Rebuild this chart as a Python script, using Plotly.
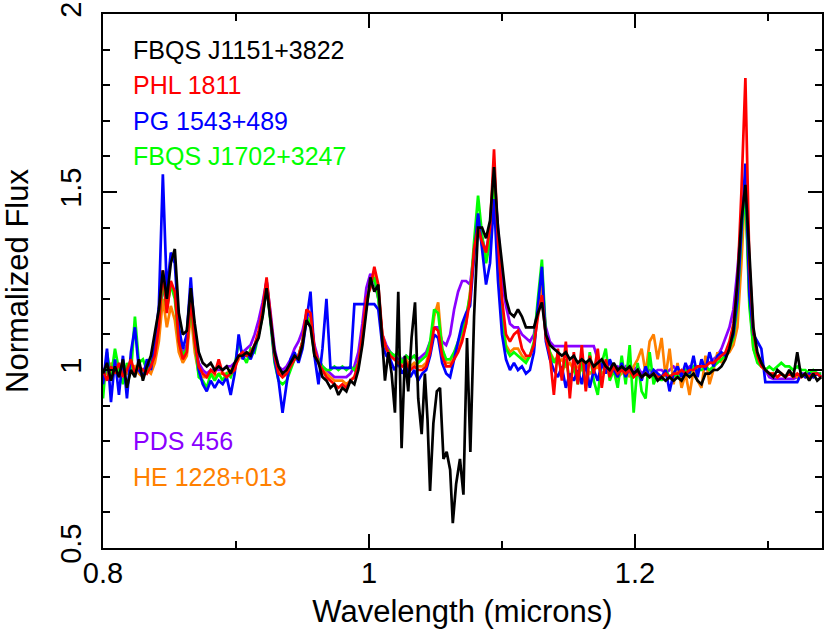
import plotly.graph_objects as go

# Comprimento de onda (microns), grade comum a todos os espectros
wave = [
    0.800, 0.803, 0.806, 0.809, 0.812, 0.815, 0.818, 0.821, 0.824, 0.827,
    0.830, 0.833, 0.836, 0.839, 0.842, 0.845, 0.848, 0.851, 0.854, 0.857,
    0.860, 0.863, 0.866, 0.869, 0.872, 0.875, 0.878, 0.881, 0.884, 0.887,
    0.890, 0.893, 0.896, 0.899, 0.902, 0.905, 0.908, 0.911, 0.914, 0.917,
    0.920, 0.923, 0.926, 0.929, 0.932, 0.935, 0.938, 0.941, 0.944, 0.947,
    0.950, 0.953, 0.956, 0.959, 0.962, 0.965, 0.968, 0.971, 0.974, 0.977,
    0.980, 0.983, 0.986, 0.989, 0.992, 0.995, 0.998, 1.001, 1.004, 1.007,
    1.010, 1.013, 1.016, 1.019, 1.022, 1.025, 1.028, 1.031, 1.034, 1.037,
    1.040, 1.043, 1.046, 1.049, 1.052, 1.055, 1.058, 1.061, 1.064, 1.067,
    1.070, 1.073, 1.076, 1.079, 1.082, 1.085, 1.088, 1.091, 1.094, 1.097,
    1.100, 1.103, 1.106, 1.109, 1.112, 1.115, 1.118, 1.121, 1.124, 1.127,
    1.130, 1.133, 1.136, 1.139, 1.142, 1.145, 1.148, 1.151, 1.154, 1.157,
    1.160, 1.163, 1.166, 1.169, 1.172, 1.175, 1.178, 1.181, 1.184, 1.187,
    1.190, 1.193, 1.196, 1.199, 1.202, 1.205, 1.208, 1.211, 1.214, 1.217,
    1.220, 1.223, 1.226, 1.229, 1.232, 1.235, 1.238, 1.241, 1.244, 1.247,
    1.250, 1.253, 1.256, 1.259, 1.262, 1.265, 1.268, 1.271, 1.274, 1.277,
    1.280, 1.283, 1.286, 1.289, 1.292, 1.295, 1.298, 1.301, 1.304, 1.307,
    1.310, 1.313, 1.316, 1.319, 1.322, 1.325, 1.328, 1.331, 1.334, 1.337,
    1.340,
]

# PDS 456
flux_pds456 = [
    1.00, 1.01, 0.99, 1.00, 1.01, 0.99, 1.00, 1.01, 1.00, 1.00,
    1.00, 1.01, 1.02, 1.05, 1.12, 1.24, 1.18, 1.24, 1.22, 1.10,
    1.05, 1.07, 1.19, 1.09, 1.02, 1.00, 0.99, 1.00, 1.00, 1.00,
    1.00, 1.01, 1.01, 1.02, 1.04, 1.05, 1.06, 1.07, 1.10, 1.14,
    1.19, 1.25, 1.16, 1.06, 1.01, 1.00, 1.01, 1.03, 1.06, 1.08,
    1.11, 1.16, 1.15, 1.07, 1.03, 1.01, 1.00, 0.99, 0.98, 0.98,
    0.98, 0.98, 0.99, 1.01, 1.05, 1.13, 1.23, 1.27, 1.25, 1.20,
    1.10, 1.07, 1.05, 1.04, 1.03, 1.03, 1.04, 1.03, 1.04, 1.03,
    1.04, 1.05, 1.08, 1.12, 1.12, 1.08, 1.07, 1.10, 1.17, 1.22,
    1.25, 1.25, 1.24, 1.33, 1.42, 1.37, 1.33, 1.40, 1.53, 1.40,
    1.25, 1.18, 1.13, 1.12, 1.12, 1.10, 1.09, 1.08, 1.10, 1.18,
    1.22, 1.12, 1.08, 1.067, 1.067, 1.067, 1.067, 1.067, 1.067, 1.067,
    1.067, 1.067, 1.067, 1.067, 1.03, 1.02, 1.01, 1.02, 1.00, 1.01,
    1.00, 1.01, 0.99, 1.00, 1.01, 0.99, 1.00, 1.00, 0.99, 1.00,
    1.00, 0.99, 1.00, 1.01, 1.00, 0.99, 1.00, 1.01, 1.00, 1.01,
    1.01, 1.02, 1.02, 1.03, 1.04, 1.06, 1.09, 1.12, 1.17, 1.28,
    1.42, 1.48, 1.25, 1.10, 1.04, 1.02, 1.00, 0.98, 0.975, 0.975,
    0.975, 0.975, 0.975, 0.975, 0.98, 0.99, 0.99, 0.99, 0.99, 0.99,
    0.99,
]

# HE 1228+013
flux_he1228 = [
    1.00, 0.99, 1.02, 1.00, 0.98, 1.01, 0.99, 1.00, 1.01, 0.99,
    0.98, 1.00, 0.99, 1.02, 1.08, 1.20, 1.12, 1.18, 1.14, 1.05,
    1.02, 1.04, 1.16, 1.05, 0.99, 0.98, 0.98, 0.99, 0.98, 0.99,
    0.99, 0.99, 1.00, 1.01, 1.03, 1.05, 1.04, 1.05, 1.07, 1.10,
    1.16, 1.24, 1.14, 1.04, 1.00, 0.98, 0.99, 1.01, 1.03, 1.04,
    1.08, 1.15, 1.14, 1.05, 1.02, 1.00, 0.99, 0.98, 0.97, 0.97,
    0.97, 0.96, 0.97, 0.98, 1.01, 1.08, 1.18, 1.25, 1.27, 1.22,
    1.10, 1.06, 1.04, 1.03, 1.02, 1.02, 1.03, 1.01, 1.02, 1.01,
    1.01, 1.02, 1.06, 1.15, 1.19, 1.06, 1.02, 1.02, 1.04, 1.06,
    1.09, 1.13, 1.22, 1.33, 1.42, 1.35, 1.32, 1.37, 1.55, 1.33,
    1.16, 1.07, 1.05, 1.06, 1.06, 1.04, 1.03, 1.04, 1.07, 1.17,
    1.25, 1.09, 1.05, 1.03, 1.02, 1.03, 1.01, 1.02, 1.00, 1.01,
    1.00, 1.01, 0.99, 1.00, 1.01, 0.99, 1.00, 0.99, 1.00, 0.98,
    0.99, 1.00, 0.98, 1.01, 1.03, 1.06, 0.99, 1.08, 1.10, 1.03,
    1.09, 0.98, 1.06, 0.96, 1.02, 0.95, 0.99, 0.93, 1.00, 0.97,
    0.95, 1.04, 0.96, 1.00, 1.05, 1.02, 1.04, 1.05, 1.07, 1.12,
    1.30, 1.52, 1.20, 1.06, 1.03, 1.01, 1.00, 0.99, 0.99, 0.98,
    0.99, 0.98, 0.99, 0.99, 0.98, 0.99, 0.98, 0.99, 0.98, 0.99,
    0.98,
]

# FBQS J1702+3247
flux_fbqs1702 = [
    0.92, 1.05, 0.98, 1.06, 1.00, 0.96, 1.02, 0.99, 1.15, 1.02,
    1.03, 1.00, 1.02, 1.06, 1.13, 1.25, 1.17, 1.24, 1.20, 1.08,
    1.04, 1.06, 1.18, 1.07, 0.98, 0.97, 0.95, 0.99, 0.97, 0.99,
    0.97, 0.99, 0.98, 1.01, 1.08, 1.04, 1.02, 1.06, 1.05, 1.10,
    1.15, 1.24, 1.13, 1.02, 0.97, 0.96, 0.97, 1.00, 1.03, 1.04,
    1.08, 1.15, 1.13, 1.04, 1.03, 1.01, 1.00, 1.00, 1.01, 1.00,
    1.01, 1.00, 1.01, 1.00, 1.02, 1.09, 1.18, 1.24, 1.26, 1.20,
    1.09, 1.06, 1.05, 1.04, 1.05, 1.02, 1.04, 1.03, 1.04, 1.02,
    1.03, 1.04, 1.08, 1.17, 1.16, 1.06, 1.03, 1.03, 1.05, 1.08,
    1.11, 1.15, 1.21, 1.36, 1.49, 1.38, 1.30, 1.36, 1.53, 1.30,
    1.14, 1.06, 1.04, 1.05, 1.04, 1.03, 1.02, 1.04, 1.08, 1.20,
    1.31, 1.10, 1.05, 1.02, 1.04, 0.99, 1.03, 0.97, 1.01, 0.96,
    1.03, 0.95, 1.05, 0.97, 0.93, 1.02, 1.06, 0.97, 1.00, 0.95,
    1.04, 0.96, 1.07, 0.88, 1.02, 0.94, 0.92, 1.05, 0.96, 0.99,
    0.97, 1.00, 0.98, 0.99, 0.98, 0.99, 1.00, 0.99, 1.01, 1.00,
    1.00, 1.01, 1.00, 1.01, 1.02, 1.03, 1.04, 1.06, 1.09, 1.18,
    1.38, 1.50, 1.18, 1.06, 1.02, 1.01, 1.00, 1.01, 1.00, 1.01,
    1.02, 1.01, 1.01, 1.00, 1.01, 1.00, 1.00, 0.99, 1.00, 0.99,
    0.99,
]

# PG 1543+489
flux_pg1543 = [
    0.96, 1.06, 0.91, 1.03, 0.93, 1.04, 0.92, 1.05, 1.12, 1.00,
    0.98, 1.03, 1.00, 1.07, 1.18, 1.55, 1.22, 1.33, 1.30, 1.12,
    1.06, 1.10, 1.26, 1.10, 1.00, 0.96, 0.94, 0.97, 0.95, 0.97,
    0.96, 0.98, 0.93, 0.99, 1.10, 1.03, 1.05, 1.03, 1.06, 1.10,
    1.16, 1.25, 1.14, 1.03, 0.97, 0.88, 0.96, 1.03, 1.05, 1.02,
    1.06, 1.14, 1.22, 1.04, 0.96, 1.06, 1.20, 1.006, 1.006, 1.006,
    1.006, 1.006, 1.006, 1.185, 1.185, 1.185, 1.185, 1.185, 1.185, 1.17,
    1.07, 1.04, 1.03, 1.00, 1.02, 0.99, 1.01, 0.98, 1.00, 0.97,
    0.99, 1.00, 1.04, 1.10, 1.09, 1.02, 0.99, 0.98, 1.03, 1.08,
    1.13, 1.16, 1.18, 1.32, 1.44, 1.34, 1.24, 1.30, 1.48, 1.25,
    1.10, 1.03, 1.00, 1.02, 1.00, 1.01, 0.99, 1.00, 1.05, 1.18,
    1.29, 1.08, 1.03, 1.00, 0.98, 1.01, 0.95, 0.99, 0.97, 1.00,
    0.96, 1.02, 0.95, 1.00, 0.97, 1.02, 0.99, 1.03, 1.00, 0.98,
    1.02, 0.98, 1.01, 0.99, 1.00, 0.97, 1.01, 0.98, 1.00, 0.99,
    0.98, 1.00, 0.94, 0.99, 1.01, 0.98, 1.02, 0.99, 1.04, 0.98,
    1.03, 1.00, 1.05, 1.01, 1.04, 1.05, 1.04, 1.07, 1.10, 1.20,
    1.40, 1.58, 1.21, 1.10, 1.08, 1.06, 0.966, 0.966, 0.966, 0.966,
    0.966, 0.966, 0.966, 0.966, 0.966, 0.99, 0.98, 0.99, 0.98, 0.99,
    0.98,
]

# PHL 1811
flux_phl1811 = [
    1.00, 0.97, 1.01, 0.99, 1.02, 0.98, 1.00, 1.03, 0.99, 1.01,
    1.00, 0.99, 1.01, 1.04, 1.12, 1.28, 1.16, 1.25, 1.22, 1.08,
    1.03, 1.05, 1.20, 1.08, 1.01, 0.99, 0.98, 1.00, 0.99, 1.03,
    0.99, 0.98, 0.99, 1.00, 1.04, 1.05, 1.04, 1.05, 1.07, 1.11,
    1.17, 1.26, 1.15, 1.04, 0.99, 0.98, 0.99, 1.01, 1.03, 1.04,
    1.08, 1.17, 1.16, 1.06, 1.02, 1.00, 0.98, 0.97, 0.96, 0.95,
    0.96, 0.95, 0.97, 0.98, 1.02, 1.10, 1.20, 1.23, 1.29, 1.24,
    1.10, 1.06, 1.04, 1.03, 1.02, 1.01, 1.02, 1.00, 1.01, 1.00,
    1.00, 1.01, 1.05, 1.12, 1.11, 1.04, 1.01, 1.01, 1.03, 1.05,
    1.08, 1.13, 1.20, 1.34, 1.40, 1.36, 1.33, 1.40, 1.62, 1.36,
    1.20, 1.10, 1.08, 1.10, 1.11, 1.06, 1.04, 1.04, 1.07, 1.15,
    1.21, 1.09, 1.04, 0.93, 1.06, 0.97, 1.08, 0.92, 1.05, 0.96,
    1.07, 0.94, 1.04, 0.99, 1.06, 0.95, 1.03, 0.98, 1.01, 0.99,
    1.00, 0.99, 1.00, 0.98, 0.99, 0.98, 0.99, 0.98, 0.99, 0.98,
    0.98, 0.99, 0.98, 0.99, 0.99, 1.00, 0.99, 1.00, 1.00, 1.01,
    1.01, 1.01, 1.02, 1.02, 1.03, 1.04, 1.05, 1.08, 1.13, 1.24,
    1.50, 1.82, 1.30, 1.11, 1.04, 1.01, 1.00, 0.99, 0.99, 0.98,
    0.99, 0.98, 0.99, 0.98, 0.99, 0.98, 0.99, 0.98, 0.99, 0.99,
    0.98,
]

# FBQS J1151+3822 (None = trecho lido com mais detalhe, ver abaixo)
flux_fbqs1151 = [
    0.99, 1.02, 0.97, 1.01, 0.98, 1.03, 0.95, 1.00, 0.98, 1.03,
    0.97, 1.01, 1.04, 1.10, 1.17, 1.28, 1.20, 1.30, 1.34, 1.16,
    1.10, 1.11, 1.23, 1.13, 1.05, 1.02, 1.01, 1.02, 1.00, 1.01,
    1.00, 1.01, 0.99, 1.02, 1.04, 1.04, 1.05, 1.04, 1.07, 1.09,
    1.15, 1.23, 1.14, 1.05, 1.01, 0.99, 1.00, 1.02, 1.04, 1.03,
    1.07, 1.14, 1.12, 1.04, 1.02, 0.98, 0.97, 0.95, 0.96, 0.93,
    0.95, 0.94, 0.97, 0.96, 1.00, 1.07, 1.17, 1.26, 1.22, 1.24,
    None, None, None, None, None, None, None, None, None, None,
    None, None, None, None, None, None, None, None, None, None,
    None, None, None, None, 1.40, 1.40, 1.37, 1.42, 1.57, 1.40,
    1.30, 1.20, 1.16, 1.15, 1.17, 1.15, 1.12, 1.12, 1.12, 1.16,
    1.19, 1.10, 1.07, 1.06, 1.05, 1.04, 1.05, 1.03, 1.04, 1.02,
    1.03, 1.02, 1.03, 1.01, 1.02, 1.03, 1.01, 1.00, 1.02, 1.00,
    1.01, 1.00, 1.01, 0.99, 1.00, 0.98, 0.99, 0.98, 0.99, 0.97,
    0.98, 0.97, 0.98, 0.97, 0.98, 0.97, 0.99, 0.98, 0.99, 0.97,
    0.96, 0.99, 0.99, 1.00, 1.00, 1.01, 1.03, 1.06, 1.11, 1.25,
    1.42, 1.52, 1.33, 1.12, 1.05, 1.02, 1.00, 0.99, 0.98, 1.00,
    0.99, 0.98, 1.00, 0.98, 1.05, 0.98, 0.99, 0.97, 0.99, 0.97,
    0.98,
]

# FBQS J1151+3822: absorcao entre 1.01 e 1.08 microns, amostragem mais fina
wave_abs = [
    1.0100, 1.0120, 1.0145, 1.0170, 1.0195, 1.0220, 1.0245, 1.0270, 1.0295, 1.0320,
    1.0346, 1.0370, 1.0396, 1.0420, 1.0440, 1.0459, 1.0484, 1.0510, 1.0534, 1.0560,
    1.0584, 1.0610, 1.0630, 1.0655, 1.0684, 1.0710, 1.0737, 1.0762, 1.0790, 1.0813,
]
flux_abs = [
    1.08, 0.97, 1.05, 0.99, 0.88, 1.22, 0.78, 1.04, 0.94, 1.09,
    1.19, 0.92, 0.82, 0.99, 0.86, 0.66, 0.85, 0.94, 0.95, 0.75,
    0.77, 0.72, 0.57, 0.68, 0.75, 0.65, 1.09, 0.77, 1.15, 1.36,
]

# junta a grade comum com o trecho detalhado
pares = [(w, f) for w, f in zip(wave, flux_fbqs1151) if f is not None]
pares = sorted(pares + list(zip(wave_abs, flux_abs)))
wave_fbqs1151 = [p[0] for p in pares]
flux_fbqs1151_full = [p[1] for p in pares]

# ordem de desenho: o ultimo fica por cima
espectros = [
    ("PDS 456", wave, flux_pds456, "#8a00ff", 0.8),
    ("HE 1228+013", wave, flux_he1228, "#ff8000", 0.7),
    ("FBQS J1702+3247", wave, flux_fbqs1702, "#00ff00", 1.6),
    ("PG 1543+489", wave, flux_pg1543, "#0000ff", 1.7),
    ("PHL 1811", wave, flux_phl1811, "#ff0000", 1.8),
    ("FBQS J1151+3822", wave_fbqs1151, flux_fbqs1151_full, "#000000", 1.9),
]

FONTE = "Liberation Sans, Arial, Helvetica, sans-serif"

fig = go.Figure()
for nome, x, fluxo, cor, y_rotulo in espectros:
    assert len(fluxo) == len(x), nome
    fig.add_trace(go.Scatter(x=x, y=fluxo, mode="lines", name=nome,
                             line=dict(color=cor, width=2.7)))
    # rotulos coloridos dentro do grafico
    fig.add_annotation(x=0.821, y=y_rotulo, text=nome, showarrow=False,
                       xanchor="left", yanchor="middle",
                       font=dict(family=FONTE, size=25, color=cor))

eixo = dict(showline=True, linecolor="black", linewidth=2, mirror="ticks",
            ticks="inside", ticklen=14, tickwidth=2, tickcolor="black",
            showgrid=False, zeroline=False, automargin=False,
            ticklabeloverflow="allow",
            tickfont=dict(family=FONTE, size=29, color="black"),
            title_font=dict(family=FONTE, size=31, color="black"))

fig.update_xaxes(**eixo, range=[0.8, 1.3406], tick0=0.8, dtick=0.2,
                 minor=dict(dtick=0.1, ticks="inside", ticklen=7,
                            tickwidth=2, tickcolor="black"),
                 ticklabelstandoff=-2,
                 title_text="Wavelength (microns)", title_standoff=13)
fig.update_yaxes(**eixo, range=[0.5, 2.0], tick0=0.5, dtick=0.5,
                 minor=dict(dtick=0.1, ticks="inside", ticklen=7,
                            tickwidth=2, tickcolor="black"),
                 tickangle=-90, ticklabelstandoff=8,
                 title_text="Normalized Flux", title_standoff=28)

fig.update_layout(width=830, height=634, autosize=False,
                  margin=dict(l=103, r=8, t=14, b=86),
                  plot_bgcolor="white", paper_bgcolor="white",
                  showlegend=False)

# tira a margem padrao do body para o grafico ocupar a janela toda
fig.write_html("out.html", config={"displayModeBar": False},
               post_script="document.body.style.margin='0';")
